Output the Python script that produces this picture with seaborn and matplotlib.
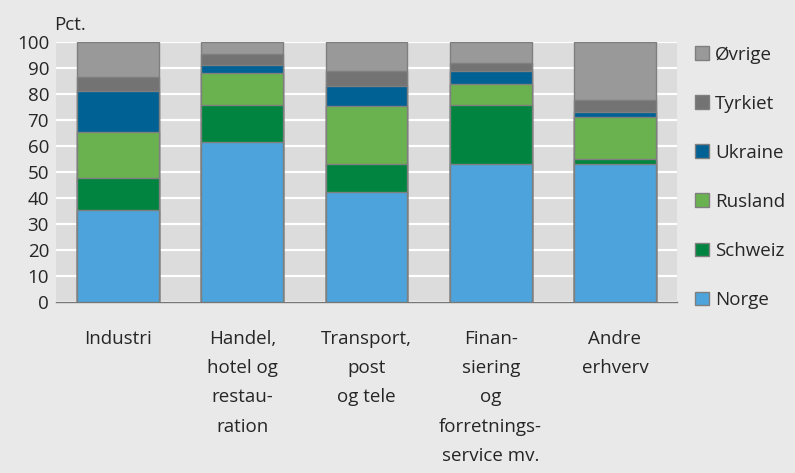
import numpy as np
import pandas as pd
import matplotlib.pyplot as plt
import seaborn as sns
from matplotlib.patches import Patch

# data (pct. of total)
categories = ["Industri", "Handel,\nhotel og\nrestau-\nration", "Transport,\npost\nog tele",
              "Finan-\nsiering\nog\nforretnings-\nservice mv.", "Andre\nerhverv"]
norge = [35.4, 61.6, 42.3, 53.2, 52.9]
schweiz = [12.4, 14.0, 10.6, 22.4, 2.1]
rusland = [17.4, 12.3, 22.4, 8.0, 16.2]
ukraine = [15.9, 3.3, 7.8, 5.3, 1.9]
tyrkiet = [5.3, 4.2, 5.6, 2.9, 4.5]
ovrige = [13.6, 4.6, 11.3, 8.2, 22.4]

series = ["Norge", "Schweiz", "Rusland", "Ukraine", "Tyrkiet", "Øvrige"]
colors = ["#4da4dc", "#00843f", "#6ab14f", "#006195", "#737373", "#999999"]

df = pd.DataFrame({"Norge": norge, "Schweiz": schweiz, "Rusland": rusland,
                   "Ukraine": ukraine, "Tyrkiet": tyrkiet, "Øvrige": ovrige},
                  index=categories)
cum = df.cumsum(axis=1)

sns.set_style("white")
plt.rcParams['font.family'] = ['Open Sans', 'DejaVu Sans']
fs = 13.5

fig = plt.figure(figsize=(7.95, 4.73), dpi=100, facecolor="#e9e9e9")
ax = fig.add_axes([56 / 795, 1 - 302.3 / 473, 621 / 795, 260.6 / 473])
ax.set_facecolor("#dcdcdc")

# draw cumulative bars from the top layer down so each segment shows
for name, col in reversed(list(zip(series, colors))):
    sns.barplot(x=np.arange(len(categories)), y=cum[name].values, color=col,
                saturation=1, width=0.66, edgecolor="#7f7f7f", linewidth=1.0, ax=ax,
                native_scale=True, zorder=3)

ax.set_xlim(-0.5, 4.5)
ax.set_ylim(0, 100)
ax.set_yticks(range(0, 101, 10))
ax.yaxis.grid(True, color="white", linewidth=1.6, zorder=0)
ax.set_axisbelow(True)
ax.set_xticks(range(len(categories)))
ax.set_xticklabels(categories, fontsize=fs, linespacing=1.8, va="top")
ax.tick_params(axis="x", length=0, pad=20)
ax.tick_params(axis="y", length=0, pad=5, labelsize=fs)
ax.set_xlabel("")
ax.set_ylabel("")
for s in ["top", "right", "left"]:
    ax.spines[s].set_visible(False)
ax.spines["bottom"].set_color("#777777")
ax.spines["bottom"].set_linewidth(1.0)

fig.text(54 / 795, 1 - 25 / 473, "Pct.", fontsize=fs, va="center", ha="left")

handles = [Patch(facecolor=c, edgecolor="#7f7f7f", label=s) for s, c in zip(series, colors)]
fig.legend(handles=handles[::-1], loc="upper left", bbox_to_anchor=(687 / 795, 1 - 38 / 473),
           frameon=False, fontsize=fs, handlelength=0.75, handleheight=0.75,
           labelspacing=1.66, handletextpad=0.35, borderaxespad=0)

fig.savefig("out.png", dpi=100, facecolor=fig.get_facecolor())
